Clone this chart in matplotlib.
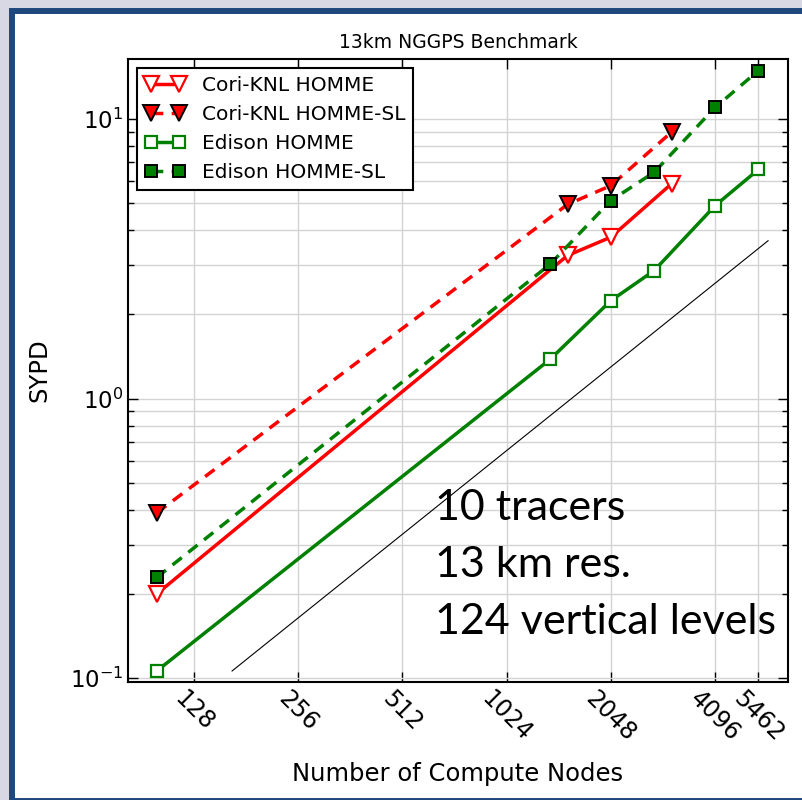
import numpy as np
import matplotlib
matplotlib.use('Agg')
import matplotlib.pyplot as plt
from matplotlib.patches import Rectangle
from matplotlib.ticker import FixedLocator, NullLocator, LogLocator

# node counts and simulated years per day
nodes_cori = [100, 1536, 2048, 3072]
sypd_cori_homme = [0.20, 3.25, 3.78, 5.88]
sypd_cori_sl = [0.39, 4.95, 5.78, 9.0]

nodes_edison = [100, 1366, 2048, 2731, 4096, 5462]
sypd_edison_homme = [0.106, 1.38, 2.24, 2.87, 4.90, 6.6]
sypd_edison_sl = [0.229, 3.02, 5.11, 6.45, 11.0, 14.9]

# ideal scaling guide line
ideal_nodes = [165, 5825]
ideal_sypd = [0.106, 3.67]

xtick_vals = [128, 256, 512, 1024, 2048, 4096, 5462]
xtick_labels = ['128', '256', '512', '1024', '2048', '4096', '5462']

fig = plt.figure(figsize=(8.03, 8.0), dpi=100)
fig.patch.set_facecolor('#d7d8e3')
# white slide panel with the blue frame
frame = Rectangle((12/803., -1/800.), 1.05, 790/800., transform=fig.transFigure,
                  facecolor='white', edgecolor='#1f497d', linewidth=4.3, zorder=-10)
fig.patches.append(frame)

ax = fig.add_axes([128/803., 118/800., 660/803., 623/800.])

red = '#ff0000'
green = '#008000'
ls_dash = (0, (3.4, 2.4))

ax.plot(nodes_cori, sypd_cori_homme, '-', color=red, lw=2.5, marker='v', ms=12,
        mfc='white', mec=red, mew=1.6, label='Cori-KNL HOMME', zorder=5)
ax.plot(nodes_cori, sypd_cori_sl, linestyle=ls_dash, color=red, lw=2.5, marker='v', ms=12,
        mfc=red, mec='black', mew=1.4, label='Cori-KNL HOMME-SL', zorder=5)
ax.plot(nodes_edison, sypd_edison_homme, '-', color=green, lw=2.5, marker='s', ms=9,
        mfc='white', mec=green, mew=1.6, label='Edison HOMME', zorder=5)
ax.plot(nodes_edison, sypd_edison_sl, linestyle=ls_dash, color=green, lw=2.5, marker='s', ms=9,
        mfc=green, mec='black', mew=1.4, label='Edison HOMME-SL', zorder=5)
ax.plot(ideal_nodes, ideal_sypd, '-', color='black', lw=0.8, zorder=4)

ax.set_xscale('log', base=2)
ax.set_yscale('log')
ax.set_xlim(82.6, 6650)
ax.set_ylim(0.0968, 16.4)

ax.xaxis.set_major_locator(FixedLocator(xtick_vals))
ax.xaxis.set_minor_locator(NullLocator())
ax.set_xticklabels(xtick_labels, rotation=-45, fontsize=17)
ax.yaxis.set_major_locator(LogLocator(base=10))
ax.yaxis.set_minor_locator(LogLocator(base=10, subs=np.arange(2, 10)))
ax.tick_params(axis='y', labelsize=16.5)

ax.tick_params(which='both', direction='in', top=True, right=True, width=1.0)
ax.tick_params(which='major', length=7)
ax.tick_params(which='minor', length=4)

ax.grid(True, which='major', color='#d3d3d3', lw=1.0)
ax.grid(True, which='minor', axis='y', color='#d3d3d3', lw=1.0)
ax.set_axisbelow(True)
for s in ax.spines.values():
    s.set_linewidth(1.5)

ax.set_title('13km NGGPS Benchmark', fontsize=13.5, pad=8)
ax.set_xlabel('Number of Compute Nodes', fontsize=17.5, labelpad=11)
ax.set_ylabel('SYPD', fontsize=17.5, labelpad=13)

leg = ax.legend(loc='upper left', fontsize=14.5, numpoints=2, fancybox=False,
                framealpha=1, edgecolor='black', borderaxespad=0.45)
leg.get_frame().set_linewidth(1.5)

ax.text(0.465, 0.31, '10 tracers\n13 km res.\n124 vertical levels', transform=ax.transAxes,
        fontsize=31, family='Lato', ha='left', va='top', linespacing=1.62)

fig.savefig('out.png', dpi=100, facecolor=fig.get_facecolor())
